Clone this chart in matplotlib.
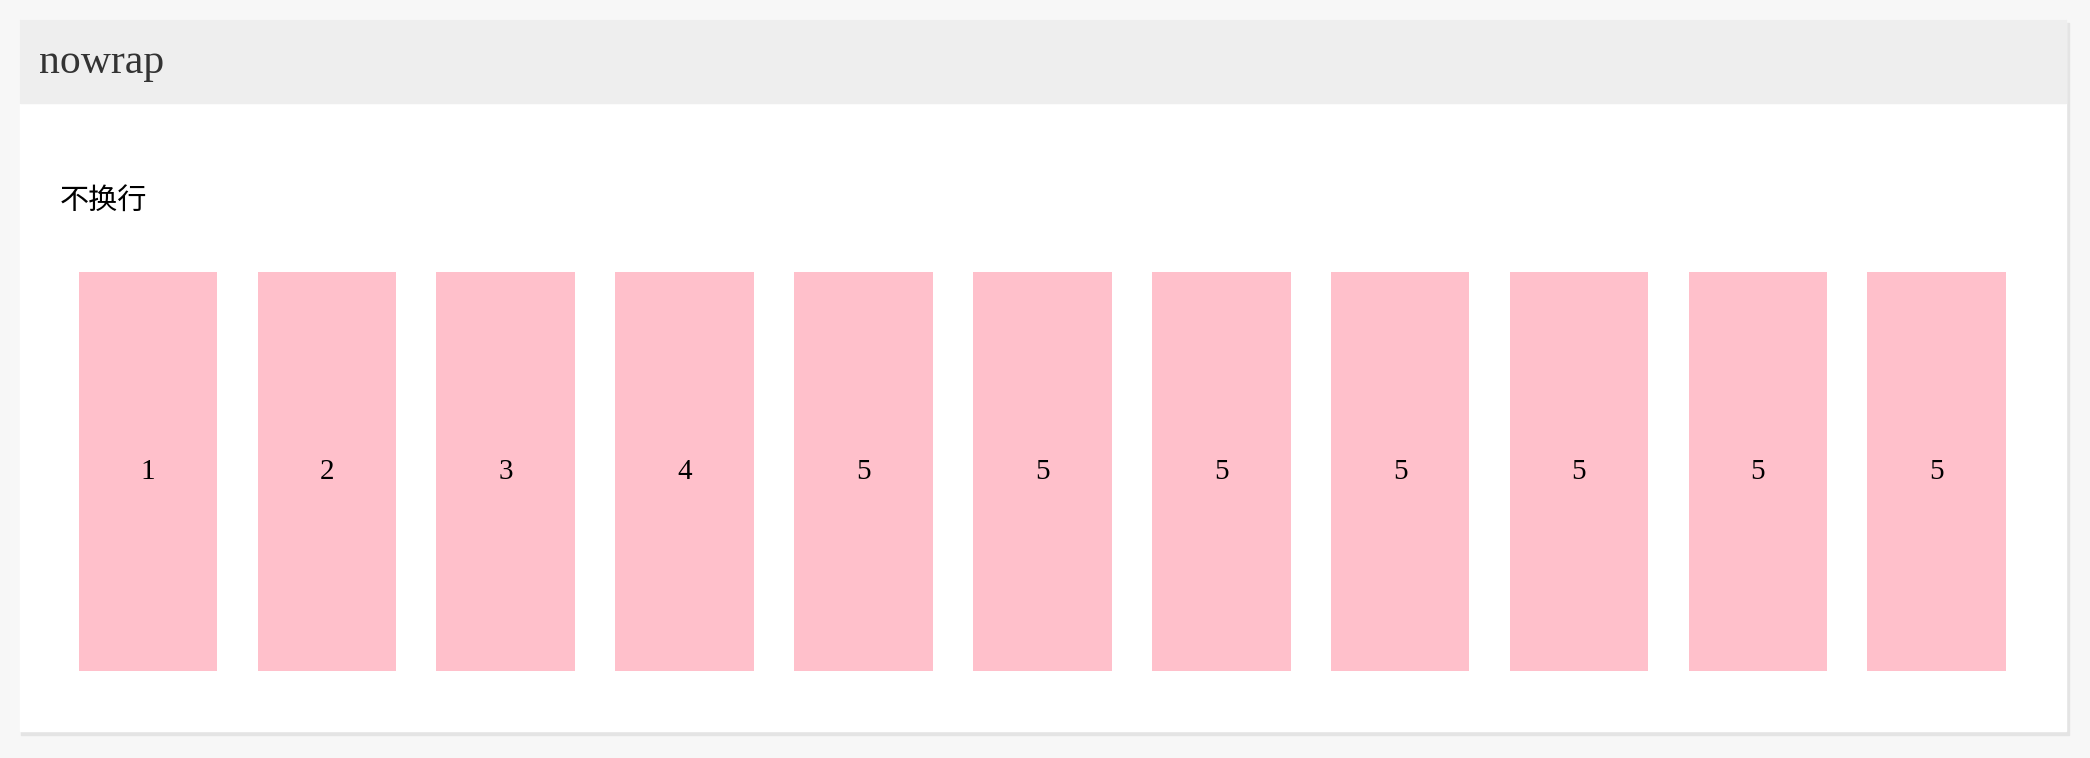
import matplotlib.pyplot as plt
from matplotlib.patches import Rectangle

title = "nowrap"
subtitle = "不换行"
labels = ["1", "2", "3", "4", "5", "5", "5", "5", "5", "5", "5"]
heights = [1] * len(labels)

# layout in reference pixel units (1568 x 569 grid)
W, H = 1568, 569
fig = plt.figure(figsize=(20.9, 7.58), dpi=100)
fig.patch.set_facecolor("#f7f7f7")
ax = fig.add_axes([0, 0, 1, 1])
ax.set_xlim(0, W)
ax.set_ylim(H, 0)
ax.axis("off")

# card with soft shadow
ax.add_patch(Rectangle((16, 17), 1536, 535, color="#e4e4e4", zorder=0))
ax.add_patch(Rectangle((15, 15), 1535, 534, color="white", zorder=1))
ax.add_patch(Rectangle((15, 15), 1535, 62, color="#eeeeee", zorder=2))

ax.text(29, 47, title, fontsize=30, family=["Liberation Serif"], color="#333333",
        va="center", ha="left", zorder=3)
ax.text(45, 151, subtitle, fontsize=21, family=["Noto Sans CJK SC", "DejaVu Sans"],
        color="black", va="center", ha="left", zorder=3)

x = [59 + 52 + i * 134.2 for i in range(len(labels))]
bars = ax.bar(x, [h * 300 for h in heights], width=104, bottom=204,
              color="#ffc0cb", zorder=3)
for xi, lab in zip(x, labels):
    ax.text(xi, 354, lab, fontsize=21, family=["Liberation Serif"], color="black",
            ha="center", va="center", zorder=4)

fig.savefig("out.png", dpi=100, facecolor=fig.get_facecolor())
